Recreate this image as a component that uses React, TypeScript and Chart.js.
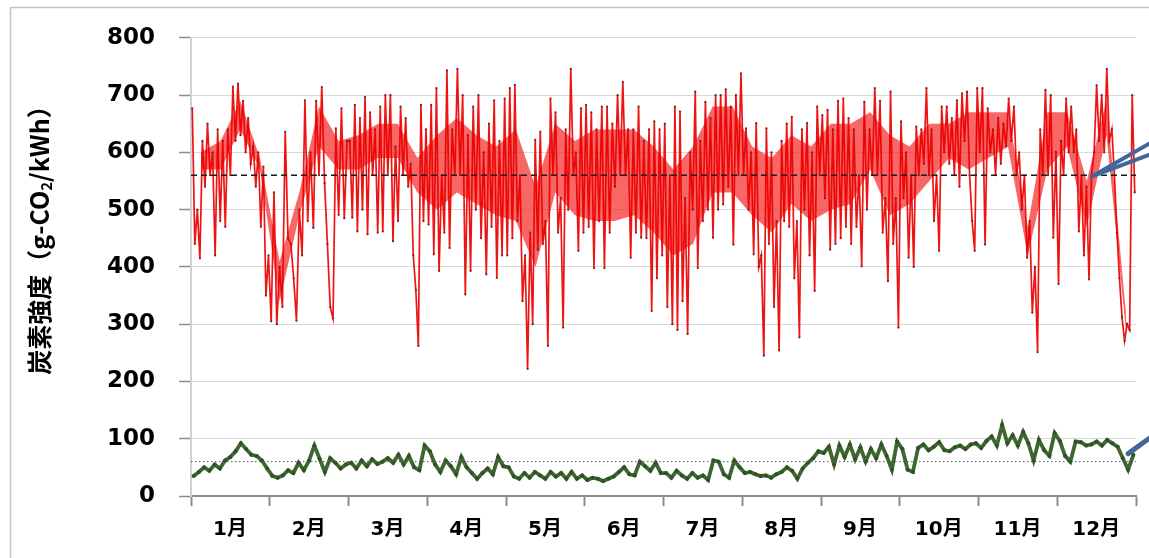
import React, { useEffect, useRef } from "react";
import { Chart, registerables } from "chart.js";

Chart.register(...registerables);

const MONTH_LABELS = ["1月", "2月", "3月", "4月", "5月", "6月", "7月", "8月", "9月", "10月", "11月", "12月"];
const Y_TICK_STEP = 100;
const Y_MAX = 800;

// Carbon intensity, upper (red) series: alternating daily highs / lows
const RED_JAN = [677, 440, 500, 415, 620, 540, 650, 560, 600, 420, 640, 480, 620, 470, 640, 560, 715, 620, 720, 630, 690, 600, 660, 580, 610, 540, 600, 470, 575, 350, 420];
const RED_FEB = [305, 530, 300, 400, 330, 636, 450, 440, 380, 306, 500, 420, 691, 480, 600, 468, 690, 560, 714, 546, 440, 330, 310, 642, 491, 677, 485, 620];
const RED_MAR = [620, 486, 683, 462, 660, 500, 697, 457, 670, 560, 640, 460, 680, 462, 700, 560, 700, 445, 610, 480, 680, 560, 660, 540, 580, 420, 360, 262, 683, 480, 640];
const RED_APR = [474, 683, 422, 712, 393, 560, 460, 743, 433, 640, 560, 746, 560, 700, 352, 630, 393, 680, 500, 700, 450, 600, 387, 650, 470, 691, 381, 620, 420, 694];
const RED_MAY = [420, 712, 450, 718, 480, 560, 340, 420, 222, 460, 300, 622, 430, 636, 440, 480, 262, 694, 560, 670, 460, 520, 294, 640, 500, 746, 560, 600, 428, 677, 460];
const RED_JUN = [683, 470, 670, 398, 640, 480, 680, 398, 680, 460, 650, 540, 700, 560, 723, 560, 640, 416, 640, 460, 680, 451, 620, 450, 640, 323, 654, 380, 640, 420];
const RED_JUL = [650, 330, 560, 300, 680, 290, 671, 340, 520, 283, 600, 500, 706, 398, 620, 480, 688, 500, 660, 451, 700, 500, 700, 509, 710, 540, 680, 439, 700, 560, 738];
const RED_AUG = [560, 642, 500, 600, 422, 651, 400, 420, 245, 642, 440, 600, 330, 480, 254, 620, 480, 650, 470, 662, 380, 480, 277, 640, 500, 651, 420, 600, 358, 680, 560];
const RED_SEP = [665, 520, 674, 430, 640, 440, 690, 450, 694, 470, 660, 440, 640, 470, 560, 401, 688, 500, 640, 560, 712, 560, 690, 460, 520, 375, 706, 440, 520, 294];
const RED_OCT = [654, 520, 600, 416, 560, 400, 645, 560, 640, 580, 712, 560, 640, 480, 560, 428, 680, 600, 680, 580, 660, 560, 691, 540, 703, 620, 706, 560, 480, 428, 712];
const RED_NOV = [600, 712, 439, 677, 600, 640, 560, 660, 580, 650, 610, 694, 620, 680, 560, 600, 500, 560, 416, 480, 320, 400, 251, 640, 560, 709, 560, 700, 451, 601];
const RED_DEC = [370, 620, 560, 694, 600, 680, 600, 640, 462, 560, 420, 540, 378, 560, 600, 717, 620, 700, 600, 746, 620, 640, 560, 460, 380, 312, 271, 300, 290, 700, 530];

// Weekly solid core of the red band (upper / lower edge), four weeks per month
const RED_CORE_HI = [
  600, 620, 690, 590,
  410, 530, 680, 620,
  630, 650, 650, 590,
  630, 660, 630, 610,
  640, 540, 650, 620,
  640, 640, 640, 610,
  570, 610, 680, 680,
  610, 590, 630, 610,
  650, 650, 670, 630,
  610, 650, 650, 670,
  670, 670, 470, 670,
  670, 550, 690, 315,
];
const RED_CORE_LO = [
  570, 570, 640, 570,
  340, 490, 610, 570,
  570, 590, 590, 530,
  500, 530, 510, 490,
  480, 400, 530, 490,
  480, 480, 490, 460,
  420, 440, 530, 530,
  490, 460, 510, 480,
  500, 510, 570, 490,
  510, 550, 590, 570,
  590, 610, 420, 570,
  610, 470, 630, 285,
];

// Lower (green) series
const GREEN_JAN = [35, 42, 50, 44, 55, 48, 62, 68, 78, 92, 82, 72, 70, 62, 48];
const GREEN_FEB = [35, 32, 36, 45, 40, 58, 45, 62, 88, 65, 42, 66, 58, 48, 55];
const GREEN_MAR = [58, 48, 62, 52, 64, 56, 60, 66, 58, 72, 55, 70, 50, 45, 88];
const GREEN_APR = [78, 55, 42, 62, 52, 38, 68, 50, 40, 30, 40, 48, 38, 68, 52];
const GREEN_MAY = [50, 34, 30, 40, 32, 42, 36, 30, 42, 34, 40, 30, 42, 30, 36];
const GREEN_JUN = [28, 32, 30, 26, 30, 34, 42, 50, 38, 36, 60, 52, 44, 58, 40];
const GREEN_JUL = [40, 32, 44, 36, 30, 40, 32, 36, 28, 62, 60, 38, 32, 62, 50];
const GREEN_AUG = [40, 42, 38, 35, 36, 32, 38, 42, 50, 44, 30, 48, 58, 66, 78];
const GREEN_SEP = [75, 86, 55, 88, 68, 90, 64, 85, 60, 82, 66, 90, 70, 46, 95];
const GREEN_OCT = [82, 46, 42, 84, 90, 80, 86, 94, 80, 78, 85, 88, 82, 90, 92];
const GREEN_NOV = [84, 96, 104, 88, 124, 92, 106, 88, 112, 92, 62, 98, 80, 70, 110];
const GREEN_DEC = [96, 70, 60, 95, 94, 88, 90, 95, 88, 98, 92, 86, 66, 46, 72];

const RED_AVG = 560;
const GREEN_AVG = 60;

// Callout anchor points (month units, value)
const CALLOUT_ANCHORS = [
  { x: 11.44, y: 558 },
  { x: 11.9, y: 74 },
];

const RED_MONTHS = [RED_JAN, RED_FEB, RED_MAR, RED_APR, RED_MAY, RED_JUN, RED_JUL, RED_AUG, RED_SEP, RED_OCT, RED_NOV, RED_DEC];
const GREEN_MONTHS = [GREEN_JAN, GREEN_FEB, GREEN_MAR, GREEN_APR, GREEN_MAY, GREEN_JUN, GREEN_JUL, GREEN_AUG, GREEN_SEP, GREEN_OCT, GREEN_NOV, GREEN_DEC];

function toPoints(months: number[][]) {
  const pts: { x: number; y: number }[] = [];
  months.forEach((arr, m) => {
    arr.forEach((v, i) => pts.push({ x: m + (i + 0.5) / arr.length, y: v }));
  });
  return pts;
}

function weeklyPoints(arr: number[]) {
  return arr.map((v, i) => ({ x: (i + 0.5) / 4, y: v }));
}

const framePlugin = {
  id: "frame",
  beforeDraw(chart: any) {
    const ctx = chart.ctx;
    ctx.save();
    ctx.fillStyle = "#ffffff";
    ctx.fillRect(0, 0, chart.width, chart.height);
    ctx.strokeStyle = "#c4c4c4";
    ctx.lineWidth = 1.5;
    ctx.beginPath();
    ctx.moveTo(10.5, chart.height);
    ctx.lineTo(10.5, 7.5);
    ctx.lineTo(chart.width, 7.5);
    ctx.stroke();
    ctx.restore();
  },
};

const yTitlePlugin = {
  id: "yTitle",
  afterDraw(chart: any) {
    const ctx = chart.ctx;
    const parts = [
      { t: "炭素強度（g-CO", size: 25, shift: 0 },
      { t: "2", size: 15, shift: 7 },
      { t: "/kWh）", size: 25, shift: 0 },
    ];
    ctx.save();
    let total = 0;
    const widths = parts.map((p) => {
      ctx.font = `bold ${p.size}px "Noto Sans CJK JP", "DejaVu Sans", sans-serif`;
      const w = ctx.measureText(p.t).width;
      total += w;
      return w;
    });
    const cy = 234;
    ctx.translate(39, cy + total / 2);
    ctx.rotate(-Math.PI / 2);
    ctx.fillStyle = "#000";
    ctx.textBaseline = "middle";
    ctx.textAlign = "left";
    let x = 0;
    parts.forEach((p, i) => {
      ctx.font = `bold ${p.size}px "Noto Sans CJK JP", "DejaVu Sans", sans-serif`;
      ctx.fillText(p.t, x, p.shift);
      x += widths[i];
    });
    ctx.restore();
  },
};

const calloutPlugin = {
  id: "callouts",
  afterDraw(chart: any) {
    const ctx = chart.ctx;
    const xs = chart.scales.x;
    const ys = chart.scales.y;
    const W = chart.width + 4;
    ctx.save();
    ctx.strokeStyle = "#41679a";
    ctx.lineCap = "round";
    const a = CALLOUT_ANCHORS[0];
    const ax = xs.getPixelForValue(a.x);
    const ay = ys.getPixelForValue(a.y);
    ctx.lineWidth = 4;
    ctx.beginPath();
    ctx.moveTo(ax, ay);
    ctx.lineTo(W, ay - 35);
    ctx.moveTo(ax, ay);
    ctx.lineTo(W, ay - 23);
    ctx.stroke();
    const b = CALLOUT_ANCHORS[1];
    const bx = xs.getPixelForValue(b.x);
    const by = ys.getPixelForValue(b.y);
    ctx.lineWidth = 5;
    ctx.beginPath();
    ctx.moveTo(bx, by);
    ctx.lineTo(W, by - 18);
    ctx.stroke();
    ctx.restore();
  },
};

export default function App() {
  const ref = useRef<HTMLCanvasElement | null>(null);

  useEffect(() => {
    if (!ref.current) return;
    const coreColor = "rgba(244,30,30,0.68)";
    const chart = new Chart(ref.current, {
      type: "line",
      data: {
        datasets: [
          {
            label: "avgRed",
            data: [
              { x: 0, y: RED_AVG },
              { x: 12, y: RED_AVG },
            ],
            borderColor: "#1a1a1a",
            borderWidth: 1.5,
            borderDash: [6, 4],
            pointRadius: 0,
          },
          {
            label: "avgGreen",
            data: [
              { x: 0, y: GREEN_AVG },
              { x: 12, y: GREEN_AVG },
            ],
            borderColor: "#555555",
            borderWidth: 1,
            borderDash: [1.5, 2.5],
            pointRadius: 0,
          },
          {
            label: "green",
            data: toPoints(GREEN_MONTHS),
            borderColor: "#3d6630",
            borderWidth: 3.8,
            pointRadius: 2,
            pointBackgroundColor: "#2f5225",
            pointBorderWidth: 0,
            tension: 0,
          },
          {
            label: "red",
            data: toPoints(RED_MONTHS),
            borderColor: "rgba(236,0,0,0.92)",
            borderWidth: 1.7,
            pointRadius: 1.1,
            pointBackgroundColor: "#7d1f1f",
            pointBorderWidth: 0,
            tension: 0,
          },
          {
            label: "coreHi",
            data: weeklyPoints(RED_CORE_HI),
            borderColor: "transparent",
            borderWidth: 1,
            backgroundColor: coreColor,
            fill: { target: "+1", above: coreColor, below: coreColor },
            pointRadius: 0,
            tension: 0,
          },
          {
            label: "coreLo",
            data: weeklyPoints(RED_CORE_LO),
            borderColor: "transparent",
            borderWidth: 1,
            pointRadius: 0,
            fill: false,
            tension: 0,
          },
        ],
      },
      options: {
        animation: false,
        responsive: false,
        layout: { padding: { left: 0, right: 13, top: 36, bottom: 0 } },
        plugins: {
          legend: { display: false },
          tooltip: { enabled: false },
          title: { display: false },
        },
        scales: {
          x: {
            type: "linear",
            min: 0,
            max: 12,
            afterFit: (s: any) => {
              s.height = 62;
            },
            ticks: {
              stepSize: 1,
              autoSkip: false,
              maxRotation: 0,
              minRotation: 0,
              labelOffset: 39,
              padding: 12,
              color: "#000",
              font: { family: "'DejaVu Sans', 'Noto Sans CJK JP', sans-serif", size: 20, weight: "bold" },
              callback: (v: any) => MONTH_LABELS[Number(v)] ?? "",
            },
            grid: {
              drawOnChartArea: false,
              drawTicks: true,
              tickLength: 10,
              tickColor: "#8c8c8c",
              tickWidth: 2,
            },
            border: { display: true, color: "#8c8c8c", width: 2 },
          },
          y: {
            min: 0,
            max: Y_MAX,
            afterFit: (s: any) => {
              s.width = 191;
            },
            ticks: {
              stepSize: Y_TICK_STEP,
              padding: 24,
              color: "#000",
              font: { family: "'DejaVu Sans', sans-serif", size: 23, weight: "bold" },
            },
            grid: {
              color: "#d9d9d9",
              lineWidth: 1,
              tickLength: 12,
              tickColor: "#8c8c8c",
              tickWidth: 1.5,
            },
            border: { display: true, color: "#d0d0d0", width: 2 },
          },
        },
      },
      plugins: [framePlugin, yTitlePlugin, calloutPlugin],
    } as any);
    return () => chart.destroy();
  }, []);

  return (
    <div style={{ position: "fixed", left: 0, top: 0, width: 1149, height: 558, background: "#fff" }}>
      <canvas ref={ref} width={1149} height={558} style={{ display: "block" }} />
    </div>
  );
}
